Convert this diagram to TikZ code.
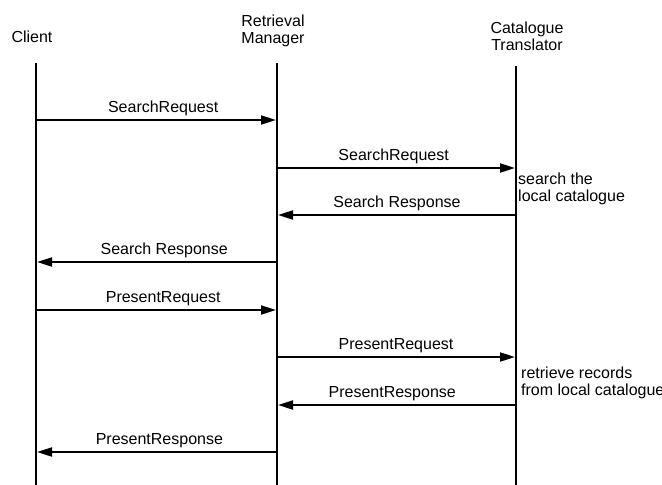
\documentclass[tikz,border=0pt]{standalone}
\usepackage{fontspec}
\setmainfont{Liberation Sans}
\usetikzlibrary{arrows.meta}
\begin{document}
\begin{tikzpicture}[x=1pt,y=-1pt,
  every node/.style={font=\fontsize{16}{17}\selectfont, inner sep=0pt},
  lifeline/.style={line width=2pt},
  msg/.style={line width=2pt, -{Triangle[length=15pt,width=9pt]}},
  msglabel/.style={anchor=base, yshift=8pt},
  note/.style={align=left, anchor=north west}]
\useasboundingbox (0,0) rectangle (662,485);

% participants
\node (client) at (32,37) {Client};
\node[align=center] (mgr) at (273,31) {Retrieval\\Manager};
\node[align=center] (cat) at (527,36) {Catalogue\\Translator};

% lifelines
\coordinate (cT) at (36,63);   \coordinate (cB) at (36,485);
\coordinate (mT) at (277,63);  \coordinate (mB) at (277,485);
\coordinate (tT) at (516,66);  \coordinate (tB) at (516,485);
\draw[lifeline] (cT) -- (cB);
\draw[lifeline] (mT) -- (mB);
\draw[lifeline] (tT) -- (tB);

% message end points on the lifelines
\coordinate (c1) at (36,120);  \coordinate (m1) at (276,120);
\coordinate (m2) at (277,168); \coordinate (t2) at (515,168);
\coordinate (t3) at (516,215); \coordinate (m3) at (278,215);
\coordinate (m4) at (277,262); \coordinate (c4) at (37,262);
\coordinate (c5) at (36,310);  \coordinate (m5) at (276,310);
\coordinate (m6) at (277,357); \coordinate (t6) at (515,357);
\coordinate (t7) at (516,405); \coordinate (m7) at (278,405);
\coordinate (m8) at (277,452); \coordinate (c8) at (37,452);

% messages
\draw[msg] (c1) -- (m1) node[msglabel, pos=0.53] (l1) {SearchRequest};
\draw[msg] (m2) -- (t2) node[msglabel, pos=0.49] (l2) {SearchRequest};
\draw[msg] (t3) -- (m3) node[msglabel, pos=0.50] (l3) {Search Response};
\draw[msg] (m4) -- (c4) node[msglabel, pos=0.47] (l4) {Search Response};
\draw[msg] (c5) -- (m5) node[msglabel, pos=0.53] (l5) {PresentRequest};
\draw[msg] (m6) -- (t6) node[msglabel, pos=0.50] (l6) {PresentRequest};
\draw[msg] (t7) -- (m7) node[msglabel, pos=0.52] (l7) {PresentResponse};
\draw[msg] (m8) -- (c8) node[msglabel, pos=0.49] (l8) {PresentResponse};

% activity notes beside the translator
\node[note] (n1) at (518,173) {search the\\local catalogue};
\node[note] (n2) at (521,367) {retrieve records\\from local catalogue};
\end{tikzpicture}
\end{document}
